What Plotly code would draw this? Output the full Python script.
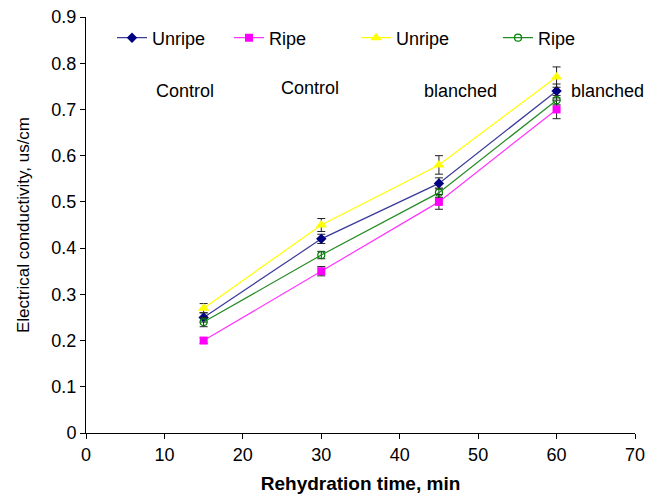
import plotly.graph_objects as go

# Rehydration time (min)
time_min = [15, 30, 45, 60]

# Electrical conductivity, us/cm
unripe_control = [0.25, 0.42, 0.54, 0.74]
ripe_control = [0.20, 0.35, 0.50, 0.70]
unripe_blanched = [0.27, 0.45, 0.58, 0.77]
ripe_blanched = [0.24, 0.385, 0.52, 0.72]

# error bar half-widths
unripe_control_err = [0.010, 0.010, 0.012, 0.015]
ripe_control_err = [0.006, 0.010, 0.016, 0.020]
unripe_blanched_err = [0.010, 0.014, 0.020, 0.022]
ripe_blanched_err = [0.010, 0.008, 0.010, 0.010]

group_labels = ["Control", "Control", "blanched", "blanched"]

FONT = "Liberation Sans, Arial, sans-serif"

# page body adds an 8px margin, so the figure is drawn 8px in from the corner
OFF = 8
W, H = 660 - 2 * OFF, 502 - 2 * OFF
# plot area in page pixels
L, R, T, B = 86, 635, 17, 433


def px_x(px):
    return (px - L) / (R - L)


def px_y(py):
    return (B - py) / (B - T)


def make_trace(y, err, name, color, line_color, symbol, size, legend, open_marker=False):
    marker = dict(symbol=symbol, size=size, color=color)
    if open_marker:
        marker = dict(symbol=symbol, size=size, color="rgba(0,0,0,0)",
                      line=dict(color=color, width=1.2))
    return go.Scatter(
        x=time_min,
        y=y,
        name=name,
        mode="lines+markers",
        line=dict(color=line_color, width=1.2),
        marker=marker,
        error_y=dict(type="data", array=err, color="#222222", thickness=1, width=4),
        legend=legend,
    )


fig = go.Figure()
fig.add_trace(make_trace(unripe_control, unripe_control_err, "Unripe", "#000080",
                         "#3a3a9a", "diamond", 8, "legend"))
fig.add_trace(make_trace(ripe_control, ripe_control_err, "Ripe", "#FF00FF",
                         "#FF33FF", "square", 8, "legend2"))
fig.add_trace(make_trace(unripe_blanched, unripe_blanched_err, "Unripe", "#FFFF00",
                         "#FFFF00", "triangle-up", 10, "legend3"))
fig.add_trace(make_trace(ripe_blanched, ripe_blanched_err, "Ripe", "#008000",
                         "#228B22", "circle", 7, "legend4", open_marker=True))

legend_style = dict(
    orientation="h",
    bgcolor="rgba(0,0,0,0)",
    font=dict(family=FONT, size=18, color="black"),
    yanchor="middle",
    xanchor="left",
    y=px_y(38),
)
fig.update_layout(
    legend=dict(legend_style, x=px_x(112)),
    legend2=dict(legend_style, x=px_x(229)),
    legend3=dict(legend_style, x=px_x(356)),
    legend4=dict(legend_style, x=px_x(498)),
)

# group labels under the legend entries
label_x = [185, 310, 460, 607]
label_y = [91, 88, 91, 91]
for lbl, lx, ly in zip(group_labels, label_x, label_y):
    fig.add_annotation(
        text=lbl, x=px_x(lx), y=px_y(ly), xref="paper", yref="paper",
        showarrow=False, xanchor="center", yanchor="middle",
        font=dict(family=FONT, size=18, color="black"),
    )

fig.update_layout(
    width=W,
    height=H,
    margin=dict(l=L - OFF, r=W + OFF - R, t=T - OFF, b=H + OFF - B, autoexpand=False),
    plot_bgcolor="white",
    paper_bgcolor="white",
    font=dict(family=FONT, size=17, color="black"),
    showlegend=True,
)

fig.update_xaxes(
    range=[0, 70],
    tickvals=[0, 10, 20, 30, 40, 50, 60, 70],
    showgrid=False,
    zeroline=False,
    showline=True,
    linecolor="black",
    linewidth=1,
    ticks="outside",
    ticklen=5,
    tickcolor="black",
    automargin=False,
    ticklabeloverflow="allow",
    tickfont=dict(family=FONT, size=18),
    title=dict(text="<b>Rehydration time, min</b>", font=dict(family=FONT, size=19),
               standoff=20),
)
fig.update_yaxes(
    range=[0, 0.9],
    tickvals=[0, 0.1, 0.2, 0.3, 0.4, 0.5, 0.6, 0.7, 0.8, 0.9],
    ticktext=["0", "0.1", "0.2", "0.3", "0.4", "0.5", "0.6", "0.7", "0.8", "0.9"],
    showgrid=False,
    zeroline=False,
    showline=True,
    linecolor="black",
    linewidth=1,
    ticks="outside",
    ticklen=5,
    tickcolor="black",
    automargin=False,
    ticklabeloverflow="allow",
    tickfont=dict(family=FONT, size=18),
    title=dict(text="Electrical conductivity, us/cm", font=dict(family=FONT, size=17),
               standoff=17),
)

fig.write_html("out.html")
